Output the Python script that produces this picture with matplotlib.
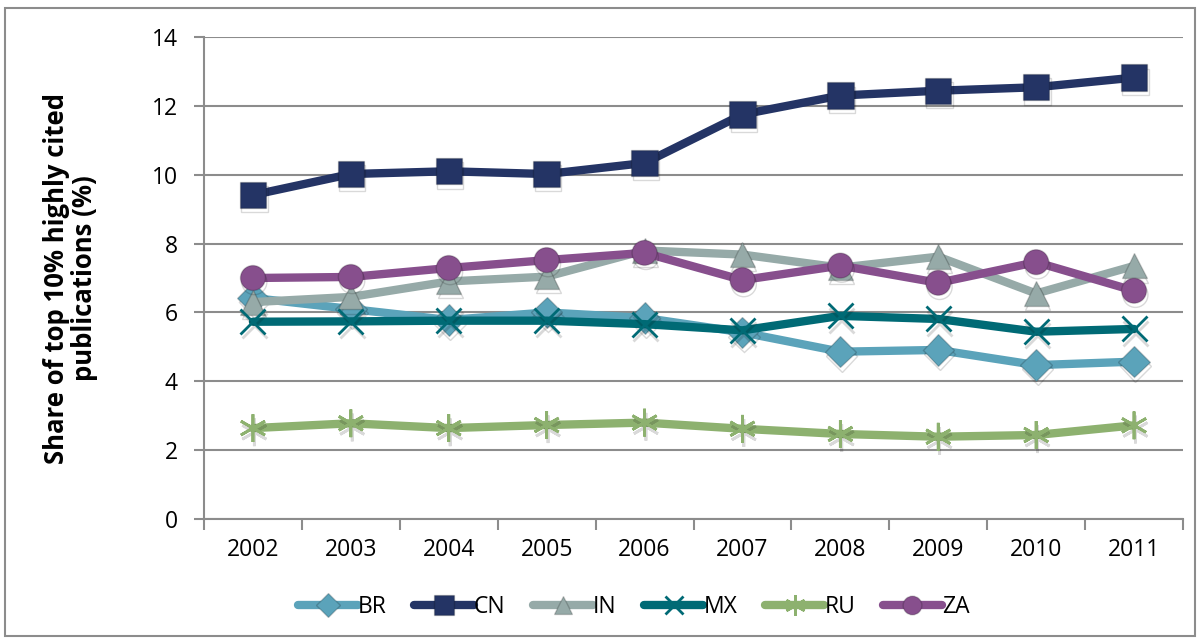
import matplotlib
matplotlib.use("Agg")
import matplotlib.pyplot as plt
import matplotlib.patheffects as pe
from matplotlib.patches import Rectangle
from matplotlib.lines import Line2D

years = ["2002", "2003", "2004", "2005", "2006", "2007", "2008", "2009", "2010", "2011"]
BR = [6.42, 6.10, 5.78, 6.00, 5.84, 5.42, 4.86, 4.91, 4.47, 4.57]
CN = [9.41, 10.02, 10.10, 10.02, 10.34, 11.75, 12.30, 12.44, 12.54, 12.82]
IN = [6.30, 6.45, 6.90, 7.04, 7.80, 7.68, 7.30, 7.62, 6.55, 7.35]
MX = [5.73, 5.74, 5.76, 5.76, 5.66, 5.48, 5.90, 5.81, 5.44, 5.52]
RU = [2.64, 2.78, 2.64, 2.73, 2.80, 2.62, 2.47, 2.39, 2.44, 2.72]
ZA = [7.00, 7.03, 7.29, 7.52, 7.73, 6.94, 7.36, 6.86, 7.46, 6.63]

series = [
    ("BR", BR, "#5ba3ba", "D", 16, 1.0),
    ("CN", CN, "#243465", "s", 19, 1.0),
    ("IN", IN, "#96aaa8", "^", 18, 1.0),
    ("MX", MX, "#006a75", "x", 18, 2.0),
    ("RU", RU, "#8db16f", (6, 2, 0), 20, 2.0),
    ("ZA", ZA, "#874f8d", "o", 18, 1.0),
]

plt.rcParams['font.family'] = ['Open Sans', 'DejaVu Sans']

fig = plt.figure(figsize=(12.01, 6.40), dpi=100)
ax = fig.add_axes([204/1201, 1 - 519/640, (1183-204)/1201, (519-37)/640])

x = list(range(len(years)))
handles = []
z = 3
for name, vals, col, mk, ms, mew in series:
    filled = mk not in ("x",) and not isinstance(mk, tuple)
    mkw = dict(marker=mk, ms=ms,
               markerfacecolor=col if filled else "none",
               markeredgecolor=col if not filled else "#00000030",
               markeredgewidth=mew)
    ax.plot(x, vals, color=col, lw=6, solid_capstyle="round", zorder=z)
    ax.plot(x, vals, ls="none", **mkw, zorder=z + 0.5,
            path_effects=[pe.SimpleLineShadow(offset=(1, -3), shadow_color="black", alpha=0.15), pe.Normal()])
    z += 1
    handles.append(Line2D([], [], color=col, lw=6, solid_capstyle="round",
                          marker=mk, ms=ms * 0.75,
                          markerfacecolor=col if filled else "none",
                          markeredgecolor=col if not filled else "#00000030",
                          markeredgewidth=mew, label=name))

ax.set_xlim(-0.5, len(years) - 0.5)
ax.set_ylim(0, 14)
ax.set_yticks(range(0, 15, 2))
ax.set_xticks(x)
ax.set_xticklabels(years)
ax.set_xticks([i - 0.5 for i in range(len(years) + 1)], minor=True)
ax.tick_params(axis="x", which="major", length=0, pad=14, labelsize=16.5)
ax.tick_params(axis="x", which="minor", length=8, width=1.5, color="#8c8c8c", direction="out")
ax.tick_params(axis="y", length=7, width=1.5, color="#8c8c8c", pad=12, labelsize=16.5)
ax.grid(axis="y", color="#8c8c8c", lw=1.5, zorder=0)
for s in ["top", "right"]:
    ax.spines[s].set_visible(False)
for s in ["left", "bottom"]:
    ax.spines[s].set_color("#8c8c8c")
    ax.spines[s].set_linewidth(1.5)

ax.set_ylabel("Share of top 10% highly cited\npublications (%)", fontsize=18.5,
              fontweight="bold", linespacing=1.05)
ax.yaxis.set_label_coords(-0.108, 0.5)

leg = fig.legend(handles=handles, loc="center", bbox_to_anchor=(0.528, 1 - 607/640), ncol=6,
                 frameon=False, fontsize=16.5, handlelength=2.6, handletextpad=0.0,
                 columnspacing=1.2)

fig.patches.append(Rectangle((5/1201, 1 - 636/640), 1190/1201, 628/640, transform=fig.transFigure,
                             fill=False, edgecolor="#8c8c8c", lw=1.5))

fig.savefig("out.png", dpi=100)
